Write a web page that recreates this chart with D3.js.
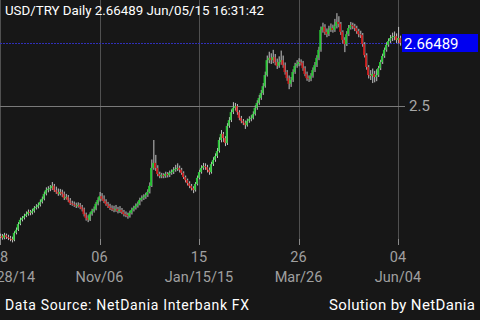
<!DOCTYPE html>
<html>
<head>
<meta charset="utf-8">
<script src="https://cdn.jsdelivr.net/npm/d3@7"></script>
<style>
  html, body { margin: 0; padding: 0; background: #171717; }
  svg { display: block; font-family: Roboto, "Noto Sans", sans-serif; }
</style>
</head>
<body>
<svg id="chart" width="480" height="320"></svg>
<script>
// USD/TRY daily closes, Aug 28 2014 -> Jun 05 2015 (one per weekday)
const closes = [
  2.160, 2.155, 2.162, 2.157, 2.155, 2.152, 2.149, 2.168, 2.176, 2.191,
  2.202, 2.207, 2.212, 2.217, 2.223, 2.220, 2.225, 2.233, 2.236, 2.241,
  2.249, 2.257, 2.270, 2.280, 2.283, 2.285, 2.291, 2.280, 2.275, 2.270,
  2.275, 2.270, 2.259, 2.262, 2.254, 2.246, 2.244, 2.241, 2.238, 2.241,
  2.236, 2.230, 2.217, 2.207, 2.202, 2.217, 2.225, 2.230, 2.244, 2.254,
  2.264, 2.257, 2.251, 2.244, 2.238, 2.233, 2.230, 2.228, 2.230, 2.225,
  2.228, 2.223, 2.217, 2.215, 2.212, 2.220, 2.228, 2.233, 2.238, 2.244,
  2.254, 2.259, 2.262, 2.267, 2.275, 2.291, 2.338, 2.351, 2.338, 2.322,
  2.317, 2.319, 2.317, 2.322, 2.319, 2.325, 2.327, 2.333, 2.335, 2.338,
  2.333, 2.325, 2.314, 2.306, 2.298, 2.291, 2.285, 2.280, 2.296, 2.312,
  2.327, 2.338, 2.343, 2.340, 2.333, 2.327, 2.348, 2.359, 2.369, 2.382,
  2.411, 2.427, 2.416, 2.403, 2.448, 2.463, 2.484, 2.495, 2.500, 2.484,
  2.469, 2.461, 2.456, 2.450, 2.461, 2.466, 2.469, 2.479, 2.495, 2.508,
  2.521, 2.534, 2.552, 2.581, 2.620, 2.626, 2.620, 2.628, 2.615, 2.605,
  2.615, 2.620, 2.607, 2.589, 2.573, 2.558, 2.568, 2.589, 2.605, 2.610,
  2.615, 2.613, 2.599, 2.584, 2.573, 2.571, 2.579, 2.594, 2.607, 2.626,
  2.647, 2.699, 2.707, 2.694, 2.688, 2.699, 2.704, 2.699, 2.709, 2.720,
  2.715, 2.694, 2.673, 2.662, 2.688, 2.704, 2.712, 2.709, 2.704, 2.696,
  2.688, 2.686, 2.662, 2.633, 2.602, 2.581, 2.579, 2.584, 2.576, 2.581,
  2.599, 2.615, 2.631, 2.647, 2.660, 2.670, 2.678, 2.681, 2.683, 2.673,
  2.678, 2.66489
];

const highs = [
  2.166, 2.165, 2.168, 2.166, 2.163, 2.160, 2.158, 2.172, 2.182, 2.196,
  2.208, 2.212, 2.218, 2.224, 2.229, 2.228, 2.231, 2.238, 2.243, 2.247,
  2.255, 2.263, 2.276, 2.287, 2.290, 2.293, 2.301, 2.296, 2.289, 2.284,
  2.283, 2.281, 2.276, 2.270, 2.267, 2.259, 2.252, 2.250, 2.247, 2.248,
  2.246, 2.241, 2.234, 2.221, 2.214, 2.222, 2.231, 2.237, 2.249, 2.261,
  2.275, 2.272, 2.266, 2.256, 2.249, 2.244, 2.240, 2.239, 2.241, 2.236,
  2.238, 2.233, 2.228, 2.224, 2.221, 2.226, 2.234, 2.239, 2.245, 2.250,
  2.260, 2.266, 2.269, 2.273, 2.282, 2.300, 2.360, 2.411, 2.372, 2.345,
  2.328, 2.325, 2.324, 2.328, 2.327, 2.331, 2.334, 2.340, 2.346, 2.350,
  2.344, 2.338, 2.329, 2.318, 2.310, 2.303, 2.296, 2.290, 2.301, 2.318,
  2.333, 2.345, 2.351, 2.350, 2.346, 2.339, 2.354, 2.366, 2.376, 2.390,
  2.418, 2.437, 2.432, 2.421, 2.455, 2.471, 2.491, 2.510, 2.508, 2.505,
  2.489, 2.474, 2.466, 2.462, 2.467, 2.473, 2.476, 2.486, 2.502, 2.515,
  2.529, 2.542, 2.560, 2.590, 2.632, 2.642, 2.638, 2.647, 2.636, 2.624,
  2.630, 2.645, 2.632, 2.614, 2.594, 2.580, 2.576, 2.596, 2.613, 2.620,
  2.625, 2.622, 2.618, 2.604, 2.590, 2.580, 2.586, 2.601, 2.615, 2.633,
  2.655, 2.708, 2.718, 2.714, 2.703, 2.710, 2.716, 2.713, 2.728, 2.743,
  2.735, 2.720, 2.698, 2.680, 2.696, 2.712, 2.720, 2.718, 2.715, 2.710,
  2.702, 2.697, 2.691, 2.667, 2.638, 2.607, 2.594, 2.598, 2.592, 2.596,
  2.605, 2.621, 2.637, 2.653, 2.667, 2.677, 2.686, 2.692, 2.695, 2.690,
  2.707, 2.684
];

const lows = [
  2.153, 2.150, 2.151, 2.152, 2.149, 2.146, 2.143, 2.146, 2.164, 2.173,
  2.188, 2.198, 2.203, 2.209, 2.213, 2.214, 2.216, 2.221, 2.229, 2.232,
  2.237, 2.245, 2.253, 2.266, 2.274, 2.277, 2.280, 2.275, 2.270, 2.265,
  2.266, 2.262, 2.254, 2.255, 2.249, 2.241, 2.239, 2.236, 2.233, 2.234,
  2.230, 2.224, 2.211, 2.200, 2.196, 2.199, 2.213, 2.221, 2.227, 2.240,
  2.250, 2.252, 2.246, 2.239, 2.233, 2.228, 2.225, 2.222, 2.223, 2.219,
  2.220, 2.217, 2.211, 2.209, 2.205, 2.208, 2.216, 2.224, 2.229, 2.234,
  2.240, 2.250, 2.254, 2.257, 2.262, 2.271, 2.288, 2.333, 2.330, 2.316,
  2.311, 2.311, 2.311, 2.312, 2.313, 2.314, 2.320, 2.322, 2.328, 2.330,
  2.326, 2.320, 2.309, 2.300, 2.292, 2.285, 2.279, 2.272, 2.276, 2.292,
  2.308, 2.323, 2.333, 2.333, 2.326, 2.320, 2.323, 2.343, 2.354, 2.364,
  2.378, 2.405, 2.406, 2.395, 2.398, 2.443, 2.458, 2.479, 2.488, 2.477,
  2.463, 2.455, 2.450, 2.440, 2.446, 2.456, 2.460, 2.465, 2.475, 2.490,
  2.503, 2.516, 2.529, 2.548, 2.577, 2.612, 2.610, 2.612, 2.607, 2.597,
  2.600, 2.608, 2.600, 2.582, 2.566, 2.544, 2.550, 2.563, 2.584, 2.600,
  2.604, 2.606, 2.592, 2.578, 2.566, 2.563, 2.565, 2.574, 2.589, 2.602,
  2.620, 2.642, 2.692, 2.686, 2.680, 2.683, 2.694, 2.692, 2.694, 2.703,
  2.706, 2.686, 2.664, 2.641, 2.657, 2.683, 2.700, 2.701, 2.696, 2.689,
  2.680, 2.678, 2.655, 2.627, 2.595, 2.572, 2.568, 2.560, 2.562, 2.565,
  2.576, 2.594, 2.610, 2.626, 2.642, 2.655, 2.665, 2.670, 2.672, 2.665,
  2.664, 2.658
];

const firstOpen = 2.158;
const startDay = "2014-08-28";
const tickDays = ["2014-08-28", "2014-11-06", "2015-01-15", "2015-03-26", "2015-06-04"];
const tickTop = ["28", "06", "15", "26", "04"];
const tickBottom = ["Aug/28/14", "Nov/06", "Jan/15/15", "Mar/26", "Jun/04"];
const yTickValues = [2.5];
const lastPrice = 2.66489;
const title = "USD/TRY Daily 2.66489 Jun/05/15 16:31:42";
const footLeft = "Data Source: NetDania Interbank FX";
const footRight = "Solution by NetDania";

// weekday calendar for the candles
const parseDay = d3.timeParse("%Y-%m-%d");
const fmtDay = d3.timeFormat("%Y-%m-%d");
const days = [];
for (let d = parseDay(startDay); days.length < closes.length; d = d3.timeDay.offset(d, 1)) {
  if (d.getDay() !== 0 && d.getDay() !== 6) days.push(fmtDay(d));
}

const candles = closes.map((c, i) => ({
  day: days[i],
  open: i === 0 ? firstOpen : closes[i - 1],
  close: c,
  high: highs[i],
  low: lows[i]
}));

const W = 480, H = 320;
const plotRight = 398, plotBottom = 245;

const svg = d3.select("#chart");

const x = d3.scaleLinear().domain([0, 200]).range([0, plotRight]);
const y = d3.scaleLinear().domain([2.5, lastPrice]).range([106, 43]);

// vertical grid + ticks
const tickIdx = tickDays.map(t => days.indexOf(t));
svg.append("g").selectAll("line")
  .data(tickIdx)
  .join("line")
    .attr("x1", d => Math.round(x(d)) + 0.5)
    .attr("x2", d => Math.round(x(d)) + 0.5)
    .attr("y1", 0)
    .attr("y2", plotBottom - 6)
    .attr("stroke", "#505050");
svg.append("g").selectAll("line")
  .data(tickIdx)
  .join("line")
    .attr("x1", d => Math.round(x(d)) + 0.5)
    .attr("x2", d => Math.round(x(d)) + 0.5)
    .attr("y1", plotBottom - 6)
    .attr("y2", plotBottom)
    .attr("stroke", "#8a8a8a");

// horizontal grid at y ticks
svg.append("g").selectAll("line")
  .data(yTickValues)
  .join("line")
    .attr("x1", 0)
    .attr("x2", plotRight + 7)
    .attr("y1", d => Math.round(y(d)) + 0.5)
    .attr("y2", d => Math.round(y(d)) + 0.5)
    .attr("stroke", "#7a7a7a");
svg.append("g").selectAll("text")
  .data(yTickValues)
  .join("text")
    .attr("x", plotRight + 11)
    .attr("y", d => y(d) + 5)
    .attr("fill", "#a8a8a8")
    .attr("font-size", 15)
    .text(d => d3.format(".1f")(d));

// current price line
svg.append("line")
  .attr("x1", 0)
  .attr("x2", plotRight + 4)
  .attr("y1", Math.round(y(lastPrice)) + 0.5)
  .attr("y2", Math.round(y(lastPrice)) + 0.5)
  .attr("stroke", "#3030b8")
  .attr("stroke-dasharray", "2,1");

// candles: gray wick beside a coloured body
const g = svg.append("g");
g.selectAll("line")
  .data(candles)
  .join("line")
    .attr("x1", (d, i) => x(i) + 0.6)
    .attr("x2", (d, i) => x(i) + 0.6)
    .attr("y1", d => y(d.high))
    .attr("y2", d => y(d.low))
    .attr("stroke", "#c4c4c4")
    .attr("stroke-width", 1);
g.selectAll("rect")
  .data(candles)
  .join("rect")
    .attr("x", (d, i) => x(i) - 1.1)
    .attr("width", 1.8)
    .attr("y", d => y(Math.max(d.open, d.close)))
    .attr("height", d => Math.max(1, Math.abs(y(d.open) - y(d.close))))
    .attr("fill", d => d.close >= d.open ? "#26c934" : "#cc1c1c");

// price tag
const tagY = y(lastPrice);
svg.append("rect")
  .attr("x", plotRight + 4)
  .attr("y", tagY - 9)
  .attr("width", W - plotRight - 6)
  .attr("height", 18)
  .attr("fill", "#0000f0");
svg.append("text")
  .attr("x", plotRight + 6)
  .attr("y", tagY + 5.5)
  .attr("fill", "#ffffff")
  .attr("font-size", 15)
  .text(d3.format(".5f")(lastPrice));

// x labels
svg.append("g").selectAll("text")
  .data(tickIdx)
  .join("text")
    .attr("x", d => x(d))
    .attr("y", 262)
    .attr("text-anchor", "middle")
    .attr("fill", "#a0a0a0")
    .attr("font-size", 14.5)
    .text((d, i) => tickTop[i]);
svg.append("g").selectAll("text")
  .data(tickIdx)
  .join("text")
    .attr("x", d => x(d))
    .attr("y", 282)
    .attr("text-anchor", "middle")
    .attr("fill", "#a0a0a0")
    .attr("font-size", 14.5)
    .text((d, i) => tickBottom[i]);

// title + footer
svg.append("text")
  .attr("x", 5).attr("y", 15)
  .attr("fill", "#ffffff")
  .attr("font-size", 13.3)
  .text(title);
svg.append("text")
  .attr("x", 5).attr("y", 310)
  .attr("fill", "#ffffff")
  .attr("font-size", 14)
  .attr("textLength", 244)
  .text(footLeft);
svg.append("text")
  .attr("x", 329).attr("y", 310)
  .attr("fill", "#ffffff")
  .attr("font-size", 15)
  .attr("textLength", 146)
  .text(footRight);
</script>
</body>
</html>
